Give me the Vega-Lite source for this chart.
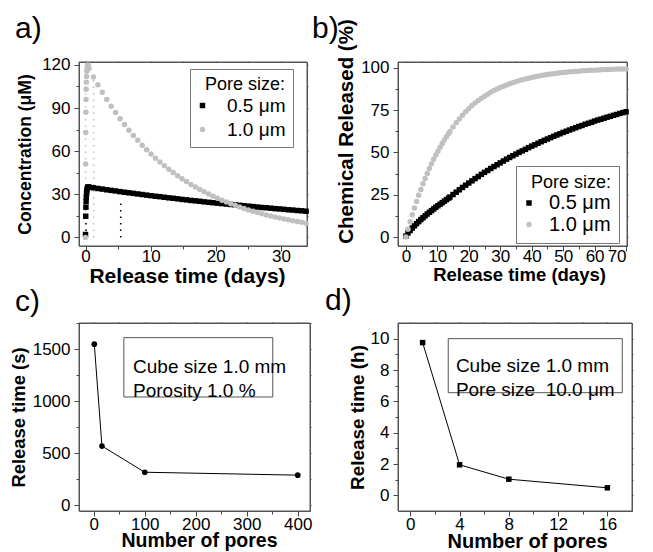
{
  "$schema": "https://vega.github.io/schema/vega-lite/v6.json",
  "background": "white",
  "padding": {"left": 8, "top": 13, "right": 0, "bottom": 0},
  "bounds": "flush",
  "columns": 2,
  "spacing": {"row": 77, "column": 88},
  "resolve": {"scale": {"color": "independent", "shape": "independent"}, "legend": {"color": "independent", "shape": "independent"}},
  "datasets": {
    "a": [
      {"t":0,"v":2,"s":"0.5 μm"},{"t":0.03,"v":14.7,"s":"0.5 μm"},{"t":0.06,"v":21,"s":"0.5 μm"},{"t":0.09,"v":25,"s":"0.5 μm"},{"t":0.12,"v":28,"s":"0.5 μm"},{"t":0.16,"v":30.5,"s":"0.5 μm"},{"t":0.2,"v":32.5,"s":"0.5 μm"},{"t":0.26,"v":34,"s":"0.5 μm"},{"t":0.34,"v":34.8,"s":"0.5 μm"},{"t":0.44,"v":35.1,"s":"0.5 μm"},
      {"t":0.54,"v":34.9,"s":"0.5 μm"},{"t":1.22,"v":34.5,"s":"0.5 μm"},{"t":1.90,"v":34.0,"s":"0.5 μm"},{"t":2.58,"v":33.6,"s":"0.5 μm"},{"t":3.26,"v":33.1,"s":"0.5 μm"},{"t":3.94,"v":32.7,"s":"0.5 μm"},{"t":4.62,"v":32.3,"s":"0.5 μm"},{"t":5.30,"v":31.8,"s":"0.5 μm"},{"t":5.98,"v":31.4,"s":"0.5 μm"},{"t":6.66,"v":31.0,"s":"0.5 μm"},
      {"t":7.34,"v":30.6,"s":"0.5 μm"},{"t":8.02,"v":30.2,"s":"0.5 μm"},{"t":8.70,"v":29.8,"s":"0.5 μm"},{"t":9.38,"v":29.4,"s":"0.5 μm"},{"t":10.06,"v":29.0,"s":"0.5 μm"},{"t":10.74,"v":28.6,"s":"0.5 μm"},{"t":11.42,"v":28.3,"s":"0.5 μm"},{"t":12.10,"v":27.9,"s":"0.5 μm"},{"t":12.78,"v":27.5,"s":"0.5 μm"},{"t":13.46,"v":27.2,"s":"0.5 μm"},
      {"t":14.14,"v":26.8,"s":"0.5 μm"},{"t":14.82,"v":26.4,"s":"0.5 μm"},{"t":15.50,"v":26.1,"s":"0.5 μm"},{"t":16.18,"v":25.7,"s":"0.5 μm"},{"t":16.86,"v":25.4,"s":"0.5 μm"},{"t":17.54,"v":25.1,"s":"0.5 μm"},{"t":18.22,"v":24.7,"s":"0.5 μm"},{"t":18.90,"v":24.4,"s":"0.5 μm"},{"t":19.58,"v":24.1,"s":"0.5 μm"},{"t":20.26,"v":23.8,"s":"0.5 μm"},
      {"t":20.94,"v":23.5,"s":"0.5 μm"},{"t":21.62,"v":23.2,"s":"0.5 μm"},{"t":22.30,"v":22.9,"s":"0.5 μm"},{"t":22.98,"v":22.6,"s":"0.5 μm"},{"t":23.66,"v":22.3,"s":"0.5 μm"},{"t":24.34,"v":22.0,"s":"0.5 μm"},{"t":25.02,"v":21.7,"s":"0.5 μm"},{"t":25.70,"v":21.4,"s":"0.5 μm"},{"t":26.38,"v":21.1,"s":"0.5 μm"},{"t":27.06,"v":20.8,"s":"0.5 μm"},
      {"t":27.74,"v":20.6,"s":"0.5 μm"},{"t":28.42,"v":20.3,"s":"0.5 μm"},{"t":29.10,"v":20.0,"s":"0.5 μm"},{"t":29.78,"v":19.8,"s":"0.5 μm"},{"t":30.46,"v":19.5,"s":"0.5 μm"},{"t":31.14,"v":19.2,"s":"0.5 μm"},{"t":31.82,"v":19.0,"s":"0.5 μm"},{"t":32.50,"v":18.7,"s":"0.5 μm"},{"t":33.18,"v":18.5,"s":"0.5 μm"},{"t":33.86,"v":18.2,"s":"0.5 μm"},
      {"t":0,"v":0,"s":"1.0 μm"},{"t":0.02,"v":51,"s":"1.0 μm"},{"t":0.04,"v":73,"s":"1.0 μm"},{"t":0.06,"v":87,"s":"1.0 μm"},{"t":0.08,"v":96,"s":"1.0 μm"},{"t":0.1,"v":103,"s":"1.0 μm"},{"t":0.13,"v":108,"s":"1.0 μm"},{"t":0.16,"v":112,"s":"1.0 μm"},{"t":0.2,"v":115.5,"s":"1.0 μm"},{"t":0.25,"v":118,"s":"1.0 μm"},{"t":0.31,"v":119.5,"s":"1.0 μm"},{"t":0.38,"v":120,"s":"1.0 μm"},{"t":0.46,"v":119,"s":"1.0 μm"},
      {"t":0.54,"v":117.4,"s":"1.0 μm"},{"t":1.22,"v":111.6,"s":"1.0 μm"},{"t":1.90,"v":106.2,"s":"1.0 μm"},{"t":2.58,"v":100.9,"s":"1.0 μm"},{"t":3.26,"v":96.0,"s":"1.0 μm"},{"t":3.94,"v":91.3,"s":"1.0 μm"},{"t":4.62,"v":86.8,"s":"1.0 μm"},{"t":5.30,"v":82.5,"s":"1.0 μm"},{"t":5.98,"v":78.5,"s":"1.0 μm"},{"t":6.66,"v":74.6,"s":"1.0 μm"},
      {"t":7.34,"v":70.9,"s":"1.0 μm"},{"t":8.02,"v":67.5,"s":"1.0 μm"},{"t":8.70,"v":64.1,"s":"1.0 μm"},{"t":9.38,"v":61.0,"s":"1.0 μm"},{"t":10.06,"v":58.0,"s":"1.0 μm"},{"t":10.74,"v":55.1,"s":"1.0 μm"},{"t":11.42,"v":52.4,"s":"1.0 μm"},{"t":12.10,"v":49.9,"s":"1.0 μm"},{"t":12.78,"v":47.4,"s":"1.0 μm"},{"t":13.46,"v":45.1,"s":"1.0 μm"},
      {"t":14.14,"v":42.9,"s":"1.0 μm"},{"t":14.82,"v":40.8,"s":"1.0 μm"},{"t":15.50,"v":38.8,"s":"1.0 μm"},{"t":16.18,"v":36.8,"s":"1.0 μm"},{"t":16.86,"v":35.0,"s":"1.0 μm"},{"t":17.54,"v":33.3,"s":"1.0 μm"},{"t":18.22,"v":31.7,"s":"1.0 μm"},{"t":18.90,"v":30.1,"s":"1.0 μm"},{"t":19.58,"v":28.6,"s":"1.0 μm"},{"t":20.26,"v":27.2,"s":"1.0 μm"},
      {"t":20.94,"v":25.9,"s":"1.0 μm"},{"t":21.62,"v":24.6,"s":"1.0 μm"},{"t":22.30,"v":23.4,"s":"1.0 μm"},{"t":22.98,"v":22.3,"s":"1.0 μm"},{"t":23.66,"v":21.2,"s":"1.0 μm"},{"t":24.34,"v":20.1,"s":"1.0 μm"},{"t":25.02,"v":19.1,"s":"1.0 μm"},{"t":25.70,"v":18.2,"s":"1.0 μm"},{"t":26.38,"v":17.3,"s":"1.0 μm"},{"t":27.06,"v":16.5,"s":"1.0 μm"},
      {"t":27.74,"v":15.6,"s":"1.0 μm"},{"t":28.42,"v":14.9,"s":"1.0 μm"},{"t":29.10,"v":14.1,"s":"1.0 μm"},{"t":29.78,"v":13.5,"s":"1.0 μm"},{"t":30.46,"v":12.8,"s":"1.0 μm"},{"t":31.14,"v":12.2,"s":"1.0 μm"},{"t":31.82,"v":11.6,"s":"1.0 μm"},{"t":32.50,"v":11.0,"s":"1.0 μm"},{"t":33.18,"v":10.5,"s":"1.0 μm"},{"t":33.86,"v":9.9,"s":"1.0 μm"}
    ],
    "aRules": [
      {"t":0,"y0":0,"y1":118,"s":"1.0 μm"},
      {"t":1.25,"y0":0,"y1":111,"s":"1.0 μm"},
      {"t":0.08,"y0":0,"y1":13,"s":"0.5 μm"},
      {"t":5.4,"y0":0,"y1":24,"s":"0.5 μm"}
    ],
    "b1": [
      {"t":0,"v":0.5,"s":"0.5 μm"},{"t":0.68,"v":2.4,"s":"0.5 μm"},{"t":1.36,"v":3.9,"s":"0.5 μm"},{"t":2.04,"v":5.3,"s":"0.5 μm"},{"t":2.72,"v":6.6,"s":"0.5 μm"},{"t":3.4,"v":7.9,"s":"0.5 μm"},{"t":4.08,"v":9.1,"s":"0.5 μm"},{"t":4.76,"v":10.3,"s":"0.5 μm"},{"t":5.44,"v":11.4,"s":"0.5 μm"},{"t":6.12,"v":12.5,"s":"0.5 μm"},{"t":6.8,"v":13.6,"s":"0.5 μm"},
      {"t":7.48,"v":14.6,"s":"0.5 μm"},{"t":8.16,"v":15.6,"s":"0.5 μm"},{"t":8.84,"v":16.6,"s":"0.5 μm"},{"t":9.52,"v":17.6,"s":"0.5 μm"},{"t":10.2,"v":18.5,"s":"0.5 μm"},{"t":10.88,"v":19.4,"s":"0.5 μm"},{"t":11.56,"v":20.3,"s":"0.5 μm"},{"t":12.24,"v":21.2,"s":"0.5 μm"},{"t":12.92,"v":22.1,"s":"0.5 μm"},{"t":13.6,"v":23.0,"s":"0.5 μm"},
      {"t":14,"v":23.6,"s":"0.5 μm"},{"t":15,"v":25.1,"s":"0.5 μm"},{"t":16,"v":26.5,"s":"0.5 μm"},{"t":17,"v":27.9,"s":"0.5 μm"},{"t":18,"v":29.3,"s":"0.5 μm"},{"t":19,"v":30.6,"s":"0.5 μm"},{"t":20,"v":31.9,"s":"0.5 μm"},{"t":21,"v":33.2,"s":"0.5 μm"},{"t":22,"v":34.5,"s":"0.5 μm"},{"t":23,"v":35.7,"s":"0.5 μm"},
      {"t":24,"v":37.0,"s":"0.5 μm"},{"t":25,"v":38.2,"s":"0.5 μm"},{"t":26,"v":39.3,"s":"0.5 μm"},{"t":27,"v":40.5,"s":"0.5 μm"},{"t":28,"v":41.6,"s":"0.5 μm"},{"t":29,"v":42.7,"s":"0.5 μm"},{"t":30,"v":43.8,"s":"0.5 μm"},{"t":31,"v":44.9,"s":"0.5 μm"},{"t":32,"v":46.0,"s":"0.5 μm"},{"t":33,"v":47.0,"s":"0.5 μm"},
      {"t":34,"v":48.0,"s":"0.5 μm"},{"t":35,"v":49.0,"s":"0.5 μm"},{"t":36,"v":50.0,"s":"0.5 μm"},{"t":37,"v":50.9,"s":"0.5 μm"},{"t":38,"v":51.8,"s":"0.5 μm"},{"t":39,"v":52.8,"s":"0.5 μm"},{"t":40,"v":53.7,"s":"0.5 μm"},{"t":41,"v":54.5,"s":"0.5 μm"},{"t":42,"v":55.4,"s":"0.5 μm"},{"t":43,"v":56.3,"s":"0.5 μm"},
      {"t":44,"v":57.1,"s":"0.5 μm"},{"t":45,"v":57.9,"s":"0.5 μm"},{"t":46,"v":58.7,"s":"0.5 μm"},{"t":47,"v":59.5,"s":"0.5 μm"},{"t":48,"v":60.3,"s":"0.5 μm"},{"t":49,"v":61.0,"s":"0.5 μm"},{"t":50,"v":61.8,"s":"0.5 μm"},{"t":51,"v":62.5,"s":"0.5 μm"},{"t":52,"v":63.2,"s":"0.5 μm"},{"t":53,"v":63.9,"s":"0.5 μm"},
      {"t":54,"v":64.6,"s":"0.5 μm"},{"t":55,"v":65.3,"s":"0.5 μm"},{"t":56,"v":65.9,"s":"0.5 μm"},{"t":57,"v":66.6,"s":"0.5 μm"},{"t":58,"v":67.2,"s":"0.5 μm"},{"t":59,"v":67.8,"s":"0.5 μm"},{"t":60,"v":68.5,"s":"0.5 μm"},{"t":61,"v":69.1,"s":"0.5 μm"},{"t":62,"v":69.6,"s":"0.5 μm"},{"t":63,"v":70.2,"s":"0.5 μm"},
      {"t":64,"v":70.8,"s":"0.5 μm"},{"t":65,"v":71.3,"s":"0.5 μm"},{"t":66,"v":71.9,"s":"0.5 μm"},{"t":67,"v":72.4,"s":"0.5 μm"},{"t":68,"v":73.0,"s":"0.5 μm"},{"t":69,"v":73.5,"s":"0.5 μm"},{"t":70,"v":74.0,"s":"0.5 μm"}
    ],
    "b2": [
      {"t":0,"v":0,"s":"1.0 μm"},{"t":0.68,"v":4.6,"s":"1.0 μm"},{"t":1.36,"v":9.0,"s":"1.0 μm"},{"t":2.04,"v":13.2,"s":"1.0 μm"},{"t":2.72,"v":17.2,"s":"1.0 μm"},{"t":3.4,"v":21.0,"s":"1.0 μm"},{"t":4.08,"v":24.7,"s":"1.0 μm"},{"t":4.76,"v":28.1,"s":"1.0 μm"},{"t":5.44,"v":31.5,"s":"1.0 μm"},{"t":6.12,"v":34.6,"s":"1.0 μm"},{"t":6.8,"v":37.6,"s":"1.0 μm"},
      {"t":7.48,"v":40.5,"s":"1.0 μm"},{"t":8.16,"v":43.3,"s":"1.0 μm"},{"t":8.84,"v":45.9,"s":"1.0 μm"},{"t":9.52,"v":48.4,"s":"1.0 μm"},{"t":10.2,"v":50.7,"s":"1.0 μm"},{"t":10.88,"v":53.0,"s":"1.0 μm"},{"t":11.56,"v":55.2,"s":"1.0 μm"},{"t":12.24,"v":57.3,"s":"1.0 μm"},{"t":12.92,"v":59.2,"s":"1.0 μm"},{"t":13.6,"v":61.1,"s":"1.0 μm"},
      {"t":14,"v":62.3,"s":"1.0 μm"},{"t":15,"v":65.0,"s":"1.0 μm"},{"t":16,"v":67.5,"s":"1.0 μm"},{"t":17,"v":69.8,"s":"1.0 μm"},{"t":18,"v":72.0,"s":"1.0 μm"},{"t":19,"v":74.0,"s":"1.0 μm"},{"t":20,"v":75.8,"s":"1.0 μm"},{"t":21,"v":77.7,"s":"1.0 μm"},{"t":22,"v":79.2,"s":"1.0 μm"},{"t":23,"v":80.7,"s":"1.0 μm"},
      {"t":24,"v":82.0,"s":"1.0 μm"},{"t":25,"v":83.2,"s":"1.0 μm"},{"t":26,"v":84.4,"s":"1.0 μm"},{"t":27,"v":85.5,"s":"1.0 μm"},{"t":28,"v":86.5,"s":"1.0 μm"},{"t":29,"v":87.4,"s":"1.0 μm"},{"t":30,"v":88.3,"s":"1.0 μm"},{"t":31,"v":89.1,"s":"1.0 μm"},{"t":32,"v":89.8,"s":"1.0 μm"},{"t":33,"v":90.5,"s":"1.0 μm"},
      {"t":34,"v":91.2,"s":"1.0 μm"},{"t":35,"v":91.8,"s":"1.0 μm"},{"t":36,"v":92.4,"s":"1.0 μm"},{"t":37,"v":92.9,"s":"1.0 μm"},{"t":38,"v":93.4,"s":"1.0 μm"},{"t":39,"v":93.8,"s":"1.0 μm"},{"t":40,"v":94.3,"s":"1.0 μm"},{"t":41,"v":94.7,"s":"1.0 μm"},{"t":42,"v":95.0,"s":"1.0 μm"},{"t":43,"v":95.4,"s":"1.0 μm"},
      {"t":44,"v":95.7,"s":"1.0 μm"},{"t":45,"v":96.0,"s":"1.0 μm"},{"t":46,"v":96.3,"s":"1.0 μm"},{"t":47,"v":96.5,"s":"1.0 μm"},{"t":48,"v":96.8,"s":"1.0 μm"},{"t":49,"v":97.0,"s":"1.0 μm"},{"t":50,"v":97.2,"s":"1.0 μm"},{"t":51,"v":97.4,"s":"1.0 μm"},{"t":52,"v":97.6,"s":"1.0 μm"},{"t":53,"v":97.7,"s":"1.0 μm"},
      {"t":54,"v":97.9,"s":"1.0 μm"},{"t":55,"v":98.0,"s":"1.0 μm"},{"t":56,"v":98.2,"s":"1.0 μm"},{"t":57,"v":98.3,"s":"1.0 μm"},{"t":58,"v":98.4,"s":"1.0 μm"},{"t":59,"v":98.5,"s":"1.0 μm"},{"t":60,"v":98.6,"s":"1.0 μm"},{"t":61,"v":98.7,"s":"1.0 μm"},{"t":62,"v":98.8,"s":"1.0 μm"},{"t":63,"v":98.9,"s":"1.0 μm"},
      {"t":64,"v":99.0,"s":"1.0 μm"},{"t":65,"v":99.0,"s":"1.0 μm"},{"t":66,"v":99.1,"s":"1.0 μm"},{"t":67,"v":99.2,"s":"1.0 μm"},{"t":68,"v":99.2,"s":"1.0 μm"},{"t":69,"v":99.3,"s":"1.0 μm"},{"t":70,"v":99.3,"s":"1.0 μm"}
    ],
    "c": [
      {"n":1,"time":1550},{"n":16,"time":570},{"n":100,"time":318},{"n":400,"time":290}
    ],
    "d": [
      {"n":1,"time":9.75},{"n":4,"time":1.95},{"n":8,"time":1.03},{"n":16,"time":0.48}
    ]
  },
  "concat": [
    {
      "width": 228, "height": 184,
      "view": {"stroke": "#555555", "strokeWidth": 1},
      "title": {"text": "a)", "anchor": "start", "frame": "group", "dx": -64, "dy": 8, "offset": 20},
      "layer": [
        {
          "data": {"values": [{}]},
          "mark": {"type": "rect", "fill": "white", "fillOpacity": 0, "stroke": "#555555", "strokeWidth": 1},
          "encoding": {
            "x": {"datum": -1, "type": "quantitative", "scale": {"domain": [-1, 34], "nice": false, "zero": false}, "axis": null},
            "x2": {"datum": 34},
            "y": {"datum": -6, "type": "quantitative", "scale": {"domain": [-6, 122], "nice": false, "zero": false}, "axis": null},
            "y2": {"datum": 122}
          }
        },
        {
          "data": {"name": "aRules"},
          "mark": {"type": "rule", "strokeDash": [1.5, 5], "strokeWidth": 1.5},
          "encoding": {
            "x": {"field": "t", "type": "quantitative",
                  "axis": {"orient": "top", "labels": false, "title": null, "domain": true, "domainColor": "#555555", "values": [0,5,10,15,20,25,30], "tickSize": 1, "encode": {"ticks": {"update": {"y2": {"signal": "datum.value % 10 === 0 ? 5 : 3"}}}}}},
            "y": {"field": "y0", "type": "quantitative",
                  "axis": {"orient": "right", "labels": false, "title": null, "domain": true, "domainColor": "#555555", "values": [0,15,30,45,60,75,90,105,120], "tickSize": 1, "encode": {"ticks": {"update": {"x2": {"signal": "datum.value % 30 === 0 ? -5 : -3"}}}}}},
            "y2": {"field": "y1"},
            "color": {"field": "s", "type": "nominal", "scale": {"domain": ["0.5 μm", "1.0 μm"], "range": ["#000000", "#c0c0c0"]},
                      "legend": {"title": "Pore size:", "orient": "none", "legendX": 111, "legendY": 7, "padding": 7, "symbolOffset": -4, "labelOffset": 15, "labelFontSize": 19, "titleFontSize": 18, "titleAnchor": "end", "titlePadding": 2, "rowPadding": 4}}
          }
        },
        {
          "data": {"name": "a"},
          "mark": {"type": "point", "filled": true, "opacity": 1, "size": 30, "strokeWidth": 0},
          "encoding": {
            "x": {"field": "t", "type": "quantitative",
                  "axis": {"orient": "bottom", "title": "Release time (days)", "titleFontSize": 21, "titleX": 108, "titleY": 19, "labelPadding": -3, "values": [0,5,10,15,20,25,30], "labelExpr": "datum.value % 10 === 0 ? datum.label : ''", "tickSize": {"condition": {"test": "datum.value % 10 === 0", "value": 5}, "value": 3}}},
            "y": {"field": "v", "type": "quantitative",
                  "axis": {"orient": "left", "title": "Concentration (μM)", "titleFontSize": 17.5, "titleX": -45, "labelPadding": 4, "values": [0,15,30,45,60,75,90,105,120], "labelExpr": "datum.value % 30 === 0 ? datum.label : ''", "tickSize": {"condition": {"test": "datum.value % 30 === 0", "value": 5}, "value": 3}}},
            "color": {"field": "s", "type": "nominal", "scale": {"domain": ["0.5 μm", "1.0 μm"], "range": ["#000000", "#c0c0c0"]},
                      "legend": {"title": "Pore size:", "orient": "none", "legendX": 111, "legendY": 7, "padding": 7, "symbolOffset": -4, "labelOffset": 15, "labelFontSize": 19, "titleFontSize": 18, "titleAnchor": "end", "titlePadding": 2, "rowPadding": 4}},
            "shape": {"field": "s", "type": "nominal", "scale": {"domain": ["0.5 μm", "1.0 μm"], "range": ["square", "circle"]},
                      "legend": {"title": "Pore size:", "orient": "none", "legendX": 111, "legendY": 7, "padding": 7, "symbolOffset": -4, "labelOffset": 15, "labelFontSize": 19, "titleFontSize": 18, "titleAnchor": "end", "titlePadding": 2, "rowPadding": 4}}
          }
        }
      ],
      "resolve": {"axis": {"x": "independent", "y": "independent"}}
    },
    {
      "width": 229, "height": 184,
      "view": {"stroke": "#555555", "strokeWidth": 1},
      "title": {"text": "b)", "anchor": "start", "frame": "group", "dx": -86, "dy": 45, "offset": 20},
      "layer": [
        {
          "data": {"values": [{}]},
          "mark": {"type": "rect", "fill": "white", "fillOpacity": 0, "stroke": "#555555", "strokeWidth": 1},
          "encoding": {
            "x": {"datum": -2.5, "type": "quantitative", "scale": {"domain": [-2.5, 70.3], "nice": false, "zero": false}, "axis": null},
            "x2": {"datum": 70.3},
            "y": {"datum": -5.3, "type": "quantitative", "scale": {"domain": [-5.3, 103.4], "nice": false, "zero": false}, "axis": null},
            "y2": {"datum": 103.4}
          }
        },
        {
          "data": {"name": "b1"},
          "mark": {"type": "point", "filled": true, "opacity": 1, "size": 30, "strokeWidth": 0},
          "encoding": {
            "x": {"field": "t", "type": "quantitative",
                  "axis": {"orient": "bottom", "title": "Release time (days)", "titleFontSize": 18.5, "titleX": 121, "titleY": 19, "labelPadding": -3, "values": [0,5,10,15,20,25,30,35,40,45,50,55,60,65,70], "labelExpr": "datum.value % 10 === 0 ? datum.label : ''", "tickSize": {"condition": {"test": "datum.value % 10 === 0", "value": 5}, "value": 3}}},
            "y": {"field": "v", "type": "quantitative",
                  "axis": {"orient": "left", "title": "Chemical Released (%)", "titleFontSize": 20.5, "titleX": -42, "titleY": 69, "labelPadding": 4, "values": [0,12.5,25,37.5,50,62.5,75,87.5,100], "labelExpr": "datum.value % 25 === 0 ? datum.label : ''", "tickSize": {"condition": {"test": "datum.value % 25 === 0", "value": 5}, "value": 3}}},
            "color": {"field": "s", "type": "nominal", "scale": {"domain": ["0.5 μm", "1.0 μm"], "range": ["#000000", "#c0c0c0"]},
                      "legend": {"title": "Pore size:", "orient": "none", "legendX": 118, "legendY": 104, "padding": 8, "symbolOffset": -5, "labelOffset": 10, "labelFontSize": 20, "titleFontSize": 18, "titleAnchor": "end", "titlePadding": 1, "rowPadding": 1.5}},
            "shape": {"field": "s", "type": "nominal", "scale": {"domain": ["0.5 μm", "1.0 μm"], "range": ["square", "circle"]},
                      "legend": {"title": "Pore size:", "orient": "none", "legendX": 118, "legendY": 104, "padding": 8, "symbolOffset": -5, "labelOffset": 10, "labelFontSize": 20, "titleFontSize": 18, "titleAnchor": "end", "titlePadding": 1, "rowPadding": 1.5}}
          }
        },
        {
          "data": {"name": "b2"},
          "mark": {"type": "point", "filled": true, "opacity": 1, "size": 30, "strokeWidth": 0},
          "encoding": {
            "x": {"field": "t", "type": "quantitative",
                  "axis": {"orient": "top", "labels": false, "title": null, "domain": true, "domainColor": "#555555", "values": [0,5,10,15,20,25,30,35,40,45,50,55,60,65,70], "tickSize": 1, "encode": {"ticks": {"update": {"y2": {"signal": "datum.value % 10 === 0 ? 5 : 3"}}}}}},
            "y": {"field": "v", "type": "quantitative",
                  "axis": {"orient": "right", "labels": false, "title": null, "domain": true, "domainColor": "#555555", "values": [0,12.5,25,37.5,50,62.5,75,87.5,100], "tickSize": 1, "encode": {"ticks": {"update": {"x2": {"signal": "datum.value % 25 === 0 ? -5 : -3"}}}}}},
            "color": {"field": "s", "type": "nominal", "scale": {"domain": ["0.5 μm", "1.0 μm"], "range": ["#000000", "#c0c0c0"]},
                      "legend": {"title": "Pore size:", "orient": "none", "legendX": 118, "legendY": 104, "padding": 8, "symbolOffset": -5, "labelOffset": 10, "labelFontSize": 20, "titleFontSize": 18, "titleAnchor": "end", "titlePadding": 1, "rowPadding": 1.5}},
            "shape": {"field": "s", "type": "nominal", "scale": {"domain": ["0.5 μm", "1.0 μm"], "range": ["square", "circle"]},
                      "legend": {"title": "Pore size:", "orient": "none", "legendX": 118, "legendY": 104, "padding": 8, "symbolOffset": -5, "labelOffset": 10, "labelFontSize": 20, "titleFontSize": 18, "titleAnchor": "end", "titlePadding": 1, "rowPadding": 1.5}}
          }
        }
      ],
      "resolve": {"axis": {"x": "independent", "y": "independent"}}
    },
    {
      "width": 231, "height": 188,
      "view": {"stroke": "#555555", "strokeWidth": 1},
      "title": {"text": "c)", "anchor": "start", "frame": "group", "dx": -64, "dy": 5, "offset": 10},
      "layer": [
        {
          "data": {"values": [{}]},
          "mark": {"type": "rect", "fill": "white", "fillOpacity": 0, "stroke": "#555555", "strokeWidth": 1},
          "encoding": {
            "x": {"datum": -29, "type": "quantitative", "scale": {"domain": [-29, 424], "nice": false, "zero": false}, "axis": null},
            "x2": {"datum": 424},
            "y": {"datum": -55, "type": "quantitative", "scale": {"domain": [-55, 1754], "nice": false, "zero": false}, "axis": null},
            "y2": {"datum": 1754}
          }
        },
        {
          "data": {"values": [{}]},
          "mark": {"type": "rect", "fill": "white", "fillOpacity": 0, "stroke": "#555555", "strokeWidth": 1},
          "encoding": {
            "x": {"datum": 59, "type": "quantitative", "axis": null},
            "x2": {"datum": 351},
            "y": {"datum": 1042, "type": "quantitative", "axis": null},
            "y2": {"datum": 1613}
          }
        },
        {
          "data": {"values": [{}]},
          "mark": {"type": "text", "text": ["Cube size 1.0 mm", "Porosity 1.0 %"], "align": "left", "baseline": "middle", "lineHeight": 24, "fontSize": 19, "color": "#000000"},
          "encoding": {
            "x": {"datum": 77, "type": "quantitative", "axis": null},
            "y": {"datum": 1328, "type": "quantitative", "axis": null}
          }
        },
        {
          "data": {"name": "c"},
          "mark": {"type": "line", "color": "#000000", "strokeWidth": 1},
          "encoding": {
            "x": {"field": "n", "type": "quantitative",
                  "axis": {"orient": "bottom", "title": "Number of pores", "titleFontSize": 19.5, "titleX": 120, "titleY": 20, "labelPadding": 0, "values": [0,50,100,150,200,250,300,350,400], "labelExpr": "datum.value % 100 === 0 ? datum.label : ''", "tickSize": {"condition": {"test": "datum.value % 100 === 0", "value": 5}, "value": 3}}},
            "y": {"field": "time", "type": "quantitative",
                  "axis": {"orient": "left", "title": "Release time (s)", "titleFontSize": 18.4, "titleX": -51, "labelPadding": 4, "format": "d", "values": [0,250,500,750,1000,1250,1500,1750], "labelExpr": "datum.value % 500 === 0 ? datum.label : ''", "tickSize": {"condition": {"test": "datum.value % 500 === 0", "value": 5}, "value": 3}}}
          }
        },
        {
          "data": {"name": "c"},
          "mark": {"type": "point", "filled": true, "opacity": 1, "size": 32, "shape": "circle", "color": "#000000", "strokeWidth": 0},
          "encoding": {
            "x": {"field": "n", "type": "quantitative",
                  "axis": {"orient": "top", "labels": false, "title": null, "domain": true, "domainColor": "#555555", "values": [0,50,100,150,200,250,300,350,400], "tickSize": 1, "encode": {"ticks": {"update": {"y2": {"signal": "datum.value % 100 === 0 ? 5 : 3"}}}}}},
            "y": {"field": "time", "type": "quantitative",
                  "axis": {"orient": "right", "labels": false, "title": null, "domain": true, "domainColor": "#555555", "values": [0,250,500,750,1000,1250,1500,1750], "tickSize": 1, "encode": {"ticks": {"update": {"x2": {"signal": "datum.value % 500 === 0 ? -5 : -3"}}}}}}
          }
        }
      ],
      "resolve": {"axis": {"x": "independent", "y": "independent"}}
    },
    {
      "width": 234, "height": 188,
      "view": {"stroke": "#555555", "strokeWidth": 1},
      "title": {"text": "d)", "anchor": "start", "frame": "group", "dx": -73, "dy": 4, "offset": 10},
      "layer": [
        {
          "data": {"values": [{}]},
          "mark": {"type": "rect", "fill": "white", "fillOpacity": 0, "stroke": "#555555", "strokeWidth": 1},
          "encoding": {
            "x": {"datum": -1, "type": "quantitative", "scale": {"domain": [-1, 18], "nice": false, "zero": false}, "axis": null},
            "x2": {"datum": 18},
            "y": {"datum": -1, "type": "quantitative", "scale": {"domain": [-1, 11], "nice": false, "zero": false}, "axis": null},
            "y2": {"datum": 11}
          }
        },
        {
          "data": {"values": [{}]},
          "mark": {"type": "rect", "fill": "white", "fillOpacity": 0, "stroke": "#555555", "strokeWidth": 1},
          "encoding": {
            "x": {"datum": 3.08, "type": "quantitative", "axis": null},
            "x2": {"datum": 17.21},
            "y": {"datum": 6.55, "type": "quantitative", "axis": null},
            "y2": {"datum": 10.0}
          }
        },
        {
          "data": {"values": [{}]},
          "mark": {"type": "text", "text": ["Cube size 1.0 mm", "Pore size\u00a0 10.0 μm"], "align": "left", "baseline": "middle", "lineHeight": 24, "fontSize": 19, "color": "#000000"},
          "encoding": {
            "x": {"datum": 3.7, "type": "quantitative", "axis": null},
            "y": {"datum": 8.24, "type": "quantitative", "axis": null}
          }
        },
        {
          "data": {"name": "d"},
          "mark": {"type": "line", "color": "#000000", "strokeWidth": 1},
          "encoding": {
            "x": {"field": "n", "type": "quantitative",
                  "axis": {"orient": "bottom", "title": "Number of pores", "titleFontSize": 20, "titleX": 129, "titleY": 20, "labelPadding": 0, "values": [0,2,4,6,8,10,12,14,16], "labelExpr": "datum.value % 4 === 0 ? datum.label : ''", "tickSize": {"condition": {"test": "datum.value % 4 === 0", "value": 5}, "value": 3}}},
            "y": {"field": "time", "type": "quantitative",
                  "axis": {"orient": "left", "title": "Release time (h)", "titleFontSize": 18.9, "titleX": -31, "labelPadding": 4, "values": [0,1,2,3,4,5,6,7,8,9,10], "labelExpr": "datum.value % 2 === 0 ? datum.label : ''", "tickSize": {"condition": {"test": "datum.value % 2 === 0", "value": 5}, "value": 3}}}
          }
        },
        {
          "data": {"name": "d"},
          "mark": {"type": "point", "filled": true, "opacity": 1, "size": 30, "shape": "square", "color": "#000000", "strokeWidth": 0},
          "encoding": {
            "x": {"field": "n", "type": "quantitative",
                  "axis": {"orient": "top", "labels": false, "title": null, "domain": true, "domainColor": "#555555", "values": [0,2,4,6,8,10,12,14,16], "tickSize": 1, "encode": {"ticks": {"update": {"y2": {"signal": "datum.value % 4 === 0 ? 5 : 3"}}}}}},
            "y": {"field": "time", "type": "quantitative",
                  "axis": {"orient": "right", "labels": false, "title": null, "domain": true, "domainColor": "#555555", "values": [0,1,2,3,4,5,6,7,8,9,10], "tickSize": 1, "encode": {"ticks": {"update": {"x2": {"signal": "datum.value % 2 === 0 ? -5 : -3"}}}}}}
          }
        }
      ],
      "resolve": {"axis": {"x": "independent", "y": "independent"}}
    }
  ],
  "config": {
    "font": "Liberation Sans",
    "view": {"stroke": "#555555", "strokeWidth": 1},
    "axis": {"domain": false, "grid": false, "labelFont": "Liberation Sans", "labelFontSize": 17, "labelColor": "#000000", "tickColor": "#444444", "tickWidth": 1, "titleFont": "Liberation Sans", "titleFontWeight": "bold", "titleColor": "#000000", "labelPadding": 2, "titlePadding": 2},
    "legend": {"strokeColor": "#777777", "labelFont": "Liberation Sans", "titleFont": "Liberation Sans", "titleFontWeight": "normal", "labelColor": "#000000", "titleColor": "#000000", "symbolSize": 30, "symbolStrokeWidth": 0, "rowPadding": 2},
    "title": {"font": "Liberation Sans", "fontSize": 30, "fontWeight": "normal", "color": "#000000", "baseline": "alphabetic"}
  }
}
